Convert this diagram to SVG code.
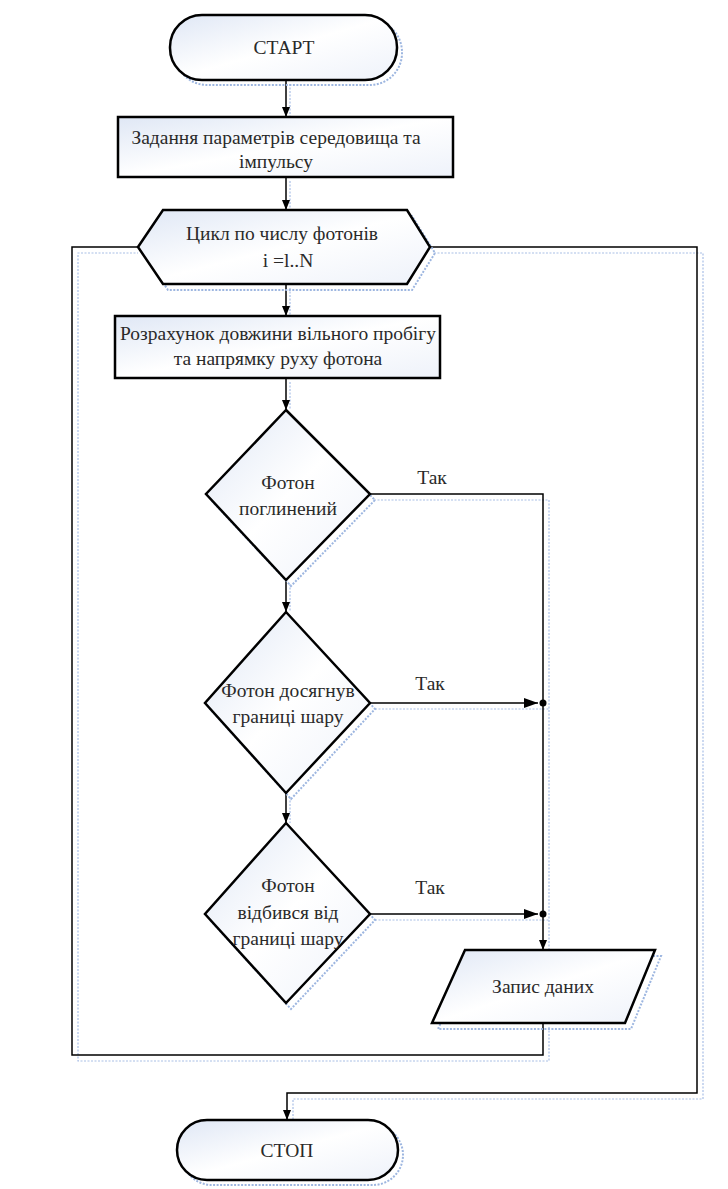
<svg xmlns="http://www.w3.org/2000/svg" width="728" height="1189" viewBox="0 0 728 1189">
<defs>
<linearGradient id="g" x1="0" y1="0" x2="1" y2="1">
<stop offset="0" stop-color="#dfe7f5"/>
<stop offset="0.5" stop-color="#ffffff"/>
<stop offset="1" stop-color="#eef2fa"/>
</linearGradient>
<marker id="ah" viewBox="0 0 10 10" refX="10" refY="5" markerWidth="10" markerHeight="10" markerUnits="userSpaceOnUse" orient="auto">
<path d="M0,1 L10,5 L0,9 Z" fill="#000"/>
</marker>
<marker id="ahl" viewBox="0 0 14 10" refX="14" refY="5" markerWidth="14" markerHeight="10" markerUnits="userSpaceOnUse" orient="auto">
<path d="M0,0 L14,5 L0,10 Z" fill="#000"/>
</marker>
</defs>
<style>
.s{fill:url(#g);stroke:#000;stroke-width:2.5}
.sh{fill:none;stroke:#9db6e0;stroke-width:2;stroke-dasharray:2 1.5}
.c{fill:none;stroke:#000;stroke-width:1.5}
.cs{fill:none;stroke:#a9bfe6;stroke-width:1.2;stroke-dasharray:2 1.5}
.t{font-family:"Liberation Serif","Times New Roman",serif;font-size:19.5px;fill:#2a2a2a;text-anchor:middle}
</style>
<rect width="728" height="1189" fill="#fff"/>
<g id="connectors">
<g class="cs">
<path d="M290,84 V117 M290,181 V210 M290,288 V316 M290,382 V410 M290,584 V612 M290,797 V823"/>
<path d="M374,500 H549 V950"/>
<path d="M375,709 H549"/>
<path d="M375,920 H549"/>
<path d="M549,1027 V1061 H78 V253 H138"/>
<path d="M434,253 H703 V1099 H293 V1120"/>
</g>
<path class="c" d="M286,80 V117" marker-end="url(#ah)"/>
<path class="c" d="M286,177 V210" marker-end="url(#ah)"/>
<path class="c" d="M286,284 V316" marker-end="url(#ah)"/>
<path class="c" d="M286,378 V410" marker-end="url(#ah)"/>
<path class="c" d="M286,580 V612" marker-end="url(#ah)"/>
<path class="c" d="M286,793 V823" marker-end="url(#ah)"/>
<path class="c" d="M370,494 H543 V950" marker-end="url(#ah)"/>
<path class="c" d="M370,703 H538" marker-end="url(#ahl)"/>
<path class="c" d="M370,914 H538" marker-end="url(#ahl)"/>
<circle cx="543" cy="703" r="3.5" fill="#000"/>
<circle cx="543" cy="914" r="3.5" fill="#000"/>
<path class="c" d="M543,1023 V1055 H72 V247 H138"/>
<path class="c" d="M430,247 H697 V1093 H287 V1120" marker-end="url(#ah)"/>
<text class="t" x="432" y="484">Так</text>
<text class="t" x="430" y="690">Так</text>
<text class="t" x="430" y="894">Так</text>
</g>
<g id="start">
<rect class="sh" x="175" y="20" width="227" height="65" rx="32"/>
<rect class="s" x="170" y="15" width="227" height="65" rx="32"/>
<text class="t" x="284" y="54">СТАРТ</text>
</g>
<g id="params">
<rect class="s" x="118" y="117" width="335" height="60"/>
<text class="t" x="276" y="144">Задання параметрів середовища та</text>
<text class="t" x="276" y="168">імпульсу</text>
</g>
<g id="loop">
<polygon class="sh" points="143,253 168,216 412,216 435,253 412,290 168,290"/>
<polygon class="s" points="138,247 163,210 407,210 430,247 407,284 163,284"/>
<text class="t" x="282" y="240">Цикл по числу фотонів</text>
<text class="t" x="288" y="267">i =l..N</text>
</g>
<g id="calc">
<rect class="s" x="115" y="316" width="325" height="62"/>
<text class="t" x="278" y="340">Розрахунок довжини вільного пробігу</text>
<text class="t" x="278" y="365">та напрямку руху фотона</text>
</g>
<g id="absorbed">
<polygon class="sh" points="291,416 375,500 291,586 211,500"/>
<polygon class="s" points="286,410 370,494 286,580 206,494"/>
<text class="t" x="288" y="489">Фотон</text>
<text class="t" x="288" y="515">поглинений</text>
</g>
<g id="boundary">
<polygon class="sh" points="291,618 375,709 291,799 210,709"/>
<polygon class="s" points="286,612 370,703 286,793 205,703"/>
<text class="t" x="288" y="697">Фотон досягнув</text>
<text class="t" x="288" y="723">границі шару</text>
</g>
<g id="reflected">
<polygon class="sh" points="291,829 375,920 291,1009 210,920"/>
<polygon class="s" points="286,823 370,914 286,1003 205,914"/>
<text class="t" x="288" y="892">Фотон</text>
<text class="t" x="288" y="919">відбився від</text>
<text class="t" x="288" y="945">границі шару</text>
</g>
<g id="record">
<polygon class="sh" points="471,956 661,956 631,1029 438,1029"/>
<polygon class="s" points="465,950 655,950 625,1023 432,1023"/>
<text class="t" x="543" y="993">Запис даних</text>
</g>
<g id="stop">
<rect class="sh" x="182" y="1125" width="221" height="60" rx="30"/>
<rect class="s" x="177" y="1120" width="221" height="60" rx="30"/>
<text class="t" x="287" y="1157">СТОП</text>
</g>
</svg>
